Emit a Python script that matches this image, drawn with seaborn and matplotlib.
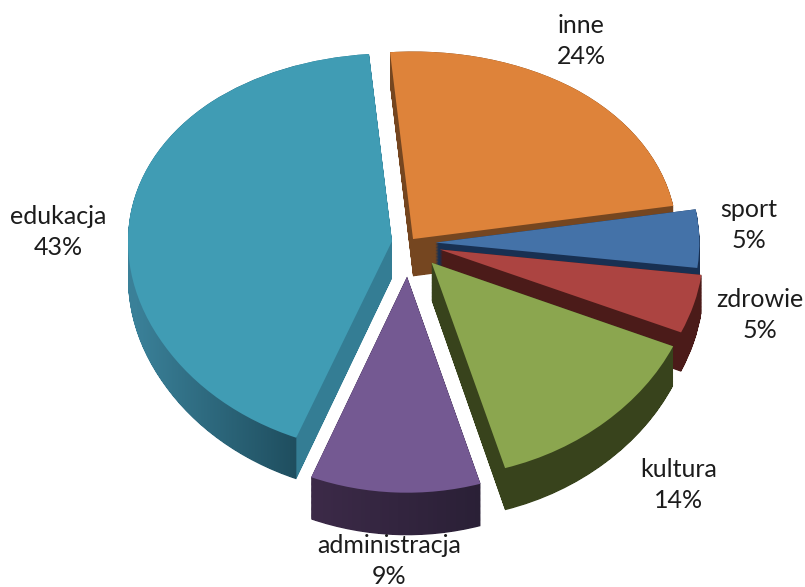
import numpy as np
import seaborn as sns
import matplotlib.pyplot as plt
from matplotlib.colors import LinearSegmentedColormap
from matplotlib.path import Path

names = ['inne', 'sport', 'zdrowie', 'kultura', 'administracja', 'edukacja']
percent_labels = [24, 5, 5, 14, 9, 43]
# shares as they look in the drawing, the tilt makes them differ from the printed ones
shares = [23.7, 4.7, 4.6, 13.9, 10.4, 42.7]
gaps = [0.025, 0.10, 0.12, 0.13, 0.167, 0.065]

top_colors = sns.color_palette(['#de833a', '#4472a8', '#ac4441', '#8ba64f', '#745992', '#409cb4'])

# side wall shading, left to right across the figure
wall_stops = [
    [(0, '#754620'), (1, '#754620')],
    [(0, '#183052'), (1, '#183052')],
    [(0, '#4b1b19'), (1, '#4b1b19')],
    [(0, '#38431c'), (1, '#38431c')],
    [(0, '#3c2a48'), (0.39, '#3c2a48'), (0.6, '#2a2036'), (1, '#2a2036')],
    [(0, '#3f8aa2'), (0.17, '#3a8098'), (0.3675, '#1f4e5f'), (0.3685, '#347d94'), (1, '#347d94')],
]

label_pos = [(581, 41), (749, 225), (760, 315), (679, 485), (389, 561), (58, 232)]

# back slices first so the front ones cover them
draw_order = [0, 1, 2, 5, 4, 3]

W, H = 805, 587
cx, cy = 409, 243
rx, ry = 264, 200
bend = 0.06
depth = 0.185


# the pie is tilted, with the near half a bit bigger than the far half
def forward(y):
    return y - bend * y ** 2


def inverse(v):
    return (1 - np.sqrt(1 - 4 * bend * v)) / (2 * bend)


sns.set_theme(style='white')
plt.rcParams['font.family'] = ['Lato', 'DejaVu Sans']

fig = plt.figure(figsize=(W / 100, H / 100), dpi=100)
ax = fig.add_axes([0, 0, 1, 1])


def pie_layer(drop):
    wedges, texts = ax.pie(shares, explode=gaps, startangle=95, counterclock=False,
                           colors=top_colors, center=(0, -drop),
                           wedgeprops={'linewidth': 0})
    for t in texts:
        t.remove()
    return wedges


# wall of every slice is the union of the slice moved down step by step
wall_paths = [[] for _ in names]
for drop in np.linspace(0, depth, 50):
    for i, w in enumerate(pie_layer(drop)):
        wall_paths[i].append(w.get_path())
        w.remove()

tops = pie_layer(0)

z = 2
for i in draw_order:
    cmap = LinearSegmentedColormap.from_list('wall', wall_stops[i], N=805)
    im = ax.imshow(np.linspace(0, 1, W).reshape(1, -1), extent=(0, 1, 0, 1),
                   transform=ax.transAxes, cmap=cmap, aspect='auto',
                   interpolation='nearest', zorder=z)
    im.set_clip_path(Path.make_compound_path(*wall_paths[i]), ax.transData)
    tops[i].set_zorder(z + 1)
    z += 2

ax.set_aspect('auto')
ax.set_yscale('function', functions=(forward, inverse))
ax.set_xlim(-cx / rx, (W - cx) / rx)
ax.set_ylim(inverse((cy - H) / ry), inverse(cy / ry))
ax.axis('off')

for name, pct, (px, py) in zip(names, percent_labels, label_pos):
    fig.text(px / W, 1 - py / H, f'{name}\n{pct}%', ha='center', va='center',
             fontsize=18, color='#1c1c1c', linespacing=1.4)

fig.savefig('out.png', dpi=100)
